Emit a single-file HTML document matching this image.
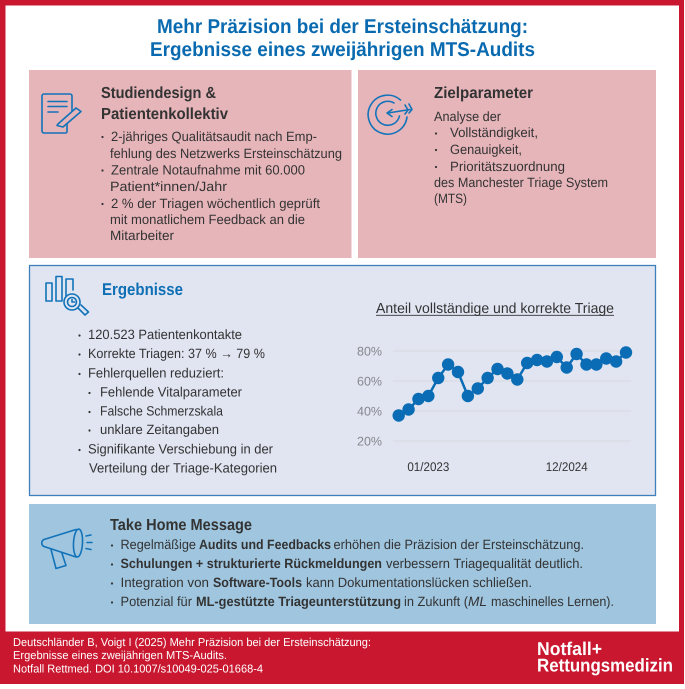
<!DOCTYPE html>
<html lang="de">
<head>
<meta charset="utf-8">
<title>Mehr Präzision bei der Ersteinschätzung</title>
<style>
html,body{margin:0;padding:0;background:#fff;width:685px;height:689px;overflow:hidden}
svg{display:block}
text{font-family:"Liberation Sans",sans-serif;fill:#333;text-rendering:geometricPrecision}
.b{font-size:13.5px}
.t{font-weight:700}
.w{fill:#fff}
.ic{fill:none;stroke:#1273b9;stroke-width:1.6;stroke-linecap:round;stroke-linejoin:round}
</style>
</head>
<body>
<svg id="page" xmlns="http://www.w3.org/2000/svg" width="685" height="689" viewBox="0 0 685 689">
<rect x="0" y="0" width="684" height="684" fill="#c8172f"/>
<rect x="5.5" y="5.5" width="673.5" height="626" fill="#fff"/>

<g font-weight="700" font-size="20">
<text x="157" y="33" textLength="371" lengthAdjust="spacingAndGlyphs" style="fill:#0a6ab0">Mehr Präzision bei der Ersteinschätzung:</text>
<text x="150" y="56" textLength="385" lengthAdjust="spacingAndGlyphs" style="fill:#0a6ab0">Ergebnisse eines zweijährigen MTS-Audits</text>
</g>

<g>
<rect x="29" y="70" width="322.5" height="188" fill="#e6b5ba"/>
<g class="ic">
<path d="M67 124V131.5a1.5 1.5 0 0 1-1.5 1.5H44a2 2 0 0 1-2-2V96a2 2 0 0 1 2-2H70a2 2 0 0 1 2 2V111"/>
<path d="M48 101.5H67M48 106.5H67M48 112H58"/>
<path d="M58 124L76 108L81 111.5L63 127L57 125.5Z"/>
</g>
<text class="t" font-size="16" x="101" y="98" textLength="115" lengthAdjust="spacingAndGlyphs">Studiendesign &amp;</text>
<text class="t" font-size="16" x="101" y="119" textLength="127" lengthAdjust="spacingAndGlyphs">Patientenkollektiv</text>
<circle cx="102.5" cy="137" r="1.1" fill="#333"/>
<circle cx="102.5" cy="170.5" r="1.1" fill="#333"/>
<circle cx="102.5" cy="204" r="1.1" fill="#333"/>
<text class="b" x="111" y="141" textLength="206" lengthAdjust="spacingAndGlyphs">2-jähriges Qualitätsaudit nach Emp-</text>
<text class="b" x="110" y="158" textLength="232" lengthAdjust="spacingAndGlyphs">fehlung des Netzwerks Ersteinschätzung</text>
<text class="b" x="111" y="174.5" textLength="194" lengthAdjust="spacingAndGlyphs">Zentrale Notaufnahme mit 60.000</text>
<text class="b" x="110" y="191" textLength="117" lengthAdjust="spacingAndGlyphs">Patient*innen/Jahr</text>
<text class="b" x="111" y="208" textLength="209" lengthAdjust="spacingAndGlyphs">2 % der Triagen wöchentlich geprüft</text>
<text class="b" x="110" y="224" textLength="195" lengthAdjust="spacingAndGlyphs">mit monatlichem Feedback an die</text>
<text class="b" x="110" y="240" textLength="64" lengthAdjust="spacingAndGlyphs">Mitarbeiter</text>
</g>

<g>
<rect x="358" y="70" width="298" height="188" fill="#e6b5ba"/>
<g class="ic">
<path d="M400.5 100A19.5 19.5 0 1 0 407 117"/>
<path d="M394 103A12 12 0 1 0 399.5 116"/>
<path d="M388 113L410 109.5"/>
<path d="M392 109.5L387 113L392 116.5"/>
<path d="M405 105L408 110L405 114M409 104L412 109.5L409 113"/>
</g>
<text class="t" font-size="16" x="434" y="98" textLength="99" lengthAdjust="spacingAndGlyphs">Zielparameter</text>
<text class="b" x="434" y="121" textLength="67" lengthAdjust="spacingAndGlyphs">Analyse der</text>
<circle cx="436" cy="133.5" r="1.1" fill="#333"/>
<circle cx="436" cy="150" r="1.1" fill="#333"/>
<circle cx="436" cy="167" r="1.1" fill="#333"/>
<text class="b" x="450" y="137" textLength="88" lengthAdjust="spacingAndGlyphs">Vollständigkeit,</text>
<text class="b" x="450" y="154" textLength="72" lengthAdjust="spacingAndGlyphs">Genauigkeit,</text>
<text class="b" x="450" y="171" textLength="115" lengthAdjust="spacingAndGlyphs">Prioritätszuordnung</text>
<text class="b" x="434" y="187" textLength="174" lengthAdjust="spacingAndGlyphs">des Manchester Triage System</text>
<text class="b" x="434" y="203" textLength="33" lengthAdjust="spacingAndGlyphs">(MTS)</text>
</g>

<g>
<rect x="29.5" y="265.5" width="626" height="230" fill="#e1e5f2" stroke="#3d80bd" stroke-width="1.3"/>
<g class="ic">
<path d="M46 283H52V301H46ZM56 276.5H62V301H56Z"/>
<path d="M66 296V279H73V290"/>
<circle cx="72" cy="302" r="8"/>
<circle cx="72" cy="302" r="4.5"/>
<path d="M72 299.5V302H74.5"/>
<path d="M78 308L85 315L88.5 312L81 305"/>
</g>
<text class="t" font-size="17" x="102" y="295" textLength="81" lengthAdjust="spacingAndGlyphs" style="fill:#0f6fb5">Ergebnisse</text>
<circle cx="79.5" cy="335.5" r="1.1" fill="#333"/>
<circle cx="79.5" cy="354.5" r="1.1" fill="#333"/>
<circle cx="79.5" cy="374" r="1.1" fill="#333"/>
<circle cx="89.5" cy="393" r="1.1" fill="#333"/>
<circle cx="89.5" cy="412" r="1.1" fill="#333"/>
<circle cx="89.5" cy="430.5" r="1.1" fill="#333"/>
<circle cx="79.5" cy="450" r="1.1" fill="#333"/>
<text class="b" x="88" y="339" textLength="154" lengthAdjust="spacingAndGlyphs">120.523 Patientenkontakte</text>
<text class="b" x="88" y="358" textLength="177" lengthAdjust="spacingAndGlyphs">Korrekte Triagen: 37 % → 79 %</text>
<text class="b" x="88" y="377.5" textLength="136" lengthAdjust="spacingAndGlyphs">Fehlerquellen reduziert:</text>
<text class="b" x="100" y="396.5" textLength="142" lengthAdjust="spacingAndGlyphs">Fehlende Vitalparameter</text>
<text class="b" x="100" y="415.5" textLength="123" lengthAdjust="spacingAndGlyphs">Falsche Schmerzskala</text>
<text class="b" x="100" y="434" textLength="119" lengthAdjust="spacingAndGlyphs">unklare Zeitangaben</text>
<text class="b" x="88" y="453.5" textLength="185" lengthAdjust="spacingAndGlyphs">Signifikante Verschiebung in der</text>
<text class="b" x="89" y="472.5" textLength="188" lengthAdjust="spacingAndGlyphs">Verteilung der Triage-Kategorien</text>

<g id="chart">
<text font-size="14.5" x="376" y="313" textLength="238" lengthAdjust="spacingAndGlyphs">Anteil vollständige und korrekte Triage</text>
<line x1="376" y1="315.3" x2="614" y2="315.3" stroke="#333" stroke-width="0.8"/>
</g>
</g>

<g>
<rect x="29" y="504" width="627" height="120" fill="#9fc5df"/>
<g class="ic">
<path d="M76 529.5L44 539.5C41 541 41 545 44 546.5L76 557"/>
<ellipse cx="78" cy="543" rx="4.5" ry="14" transform="rotate(3 78 543)"/>
<path d="M51 549.5L56 568.5L66 565.5L62 553.5"/>
<path d="M86 536L91 535M87 542.5H92M86 548.5L91 549.5"/>
</g>
<text class="t" font-size="16" x="110" y="530" textLength="142" lengthAdjust="spacingAndGlyphs">Take Home Message</text>
<circle cx="112" cy="545.5" r="1.1" fill="#333"/>
<circle cx="112" cy="564.5" r="1.1" fill="#333"/>
<circle cx="112" cy="583.5" r="1.1" fill="#333"/>
<circle cx="112" cy="602.5" r="1.1" fill="#333"/>

<text class="b" x="120.5" y="549" textLength="75.5" lengthAdjust="spacingAndGlyphs">Regelmäßige</text>
<text class="b t" x="199" y="549" textLength="132" lengthAdjust="spacingAndGlyphs">Audits und Feedbacks</text>
<text class="b" x="333.5" y="549" textLength="250.5" lengthAdjust="spacingAndGlyphs">erhöhen die Präzision der Ersteinschätzung.</text>

<text class="b t" x="120.5" y="568" textLength="261.5" lengthAdjust="spacingAndGlyphs">Schulungen + strukturierte Rückmeldungen</text>
<text class="b" x="386" y="568" textLength="197" lengthAdjust="spacingAndGlyphs">verbessern Triagequalität deutlich.</text>

<text class="b" x="120.5" y="587" textLength="88.5" lengthAdjust="spacingAndGlyphs">Integration von</text>
<text class="b t" x="213" y="587" textLength="89" lengthAdjust="spacingAndGlyphs">Software-Tools</text>
<text class="b" x="306" y="587" textLength="226" lengthAdjust="spacingAndGlyphs">kann Dokumentationslücken schließen.</text>

<text class="b" x="120.5" y="606" textLength="71.5" lengthAdjust="spacingAndGlyphs">Potenzial für</text>
<text class="b t" x="196" y="606" textLength="205" lengthAdjust="spacingAndGlyphs">ML-gestützte Triageunterstützung</text>
<text class="b" x="404" y="606" textLength="64" lengthAdjust="spacingAndGlyphs">in Zukunft (</text>
<text class="b" font-style="italic" x="468" y="606" textLength="19" lengthAdjust="spacingAndGlyphs">ML</text>
<text class="b" x="491" y="606" textLength="123" lengthAdjust="spacingAndGlyphs">maschinelles Lernen).</text>
</g>

<g>
<text class="w" font-size="11.5" x="13" y="646" textLength="358" lengthAdjust="spacingAndGlyphs" style="fill:#fff">Deutschländer B, Voigt I (2025) Mehr Präzision bei der Ersteinschätzung:</text>
<text class="w" font-size="11.5" x="13" y="659" textLength="214" lengthAdjust="spacingAndGlyphs" style="fill:#fff">Ergebnisse eines zweijährigen MTS-Audits.</text>
<text class="w" font-size="11.5" x="13" y="672.5" textLength="250" lengthAdjust="spacingAndGlyphs" style="fill:#fff">Notfall Rettmed. DOI 10.1007/s10049-025-01668-4</text>
<text class="t" font-size="18.5" x="537" y="655" textLength="65" lengthAdjust="spacingAndGlyphs" style="fill:#fff">Notfall+</text>
<text class="t" font-size="18.5" x="537" y="671.5" textLength="136" lengthAdjust="spacingAndGlyphs" style="fill:#fff">Rettungsmedizin</text>
</g>
</svg>

<script>
const categories = ['01/23','02/23','03/23','04/23','05/23','06/23','07/23','08/23','09/23','10/23','11/23','12/23','01/24','02/24','03/24','04/24','05/24','06/24','07/24','08/24','09/24','10/24','11/24','12/24'];
const triageValues = [37,41,48,50,62,71,66,50,55,62,68,65,61,72,74,73,76,69,78,71,71,75,73,79];
const yTicks = [20,40,60,80];
const xTickLabels = ['01/2023','12/2024'];
const xTickCategories = ['04/23','06/24'];

const NS = 'http://www.w3.org/2000/svg';
const chart = document.getElementById('chart');
function xScale(i){ return 398.7 + i * (626 - 398.7) / (categories.length - 1); }
function yScale(v){ return 441 - (v - 20) * 1.5; }
function make(tag, attrs){
  const el = document.createElementNS(NS, tag);
  for (const k in attrs) el.setAttribute(k, attrs[k]);
  chart.appendChild(el);
  return el;
}
yTicks.forEach(function(t){
  const grid = make('line', {x1: 393, x2: 631, y1: yScale(t), y2: yScale(t), stroke: '#d8d9df', 'stroke-width': 1});
  
  
  const label = make('text', {x: 357, y: yScale(t) + 4.5, 'font-size': 12.5, textLength: 25, lengthAdjust: 'spacingAndGlyphs', style: 'fill:#86878c'});
  
  
  label.textContent = t + '%';
});
xTickLabels.forEach(function(t, i){
  const label = make('text', {x: xScale(categories.indexOf(xTickCategories[i])), y: 471, 'font-size': 12.5, 'text-anchor': 'middle', textLength: 42, lengthAdjust: 'spacingAndGlyphs'});
  
  
  label.textContent = t;
});
const line = make('polyline', {points: triageValues.map(function(v, i){ return xScale(i) + ',' + yScale(v); }).join(' '), fill: 'none', stroke: '#0a6cb4', 'stroke-width': 2.5});


triageValues.forEach(function(v, i){
  const dot = make('circle', {cx: xScale(i), cy: yScale(v), r: 6.2, fill: '#0a6cb4'});
  
  
});
</script>
</body>
</html>
